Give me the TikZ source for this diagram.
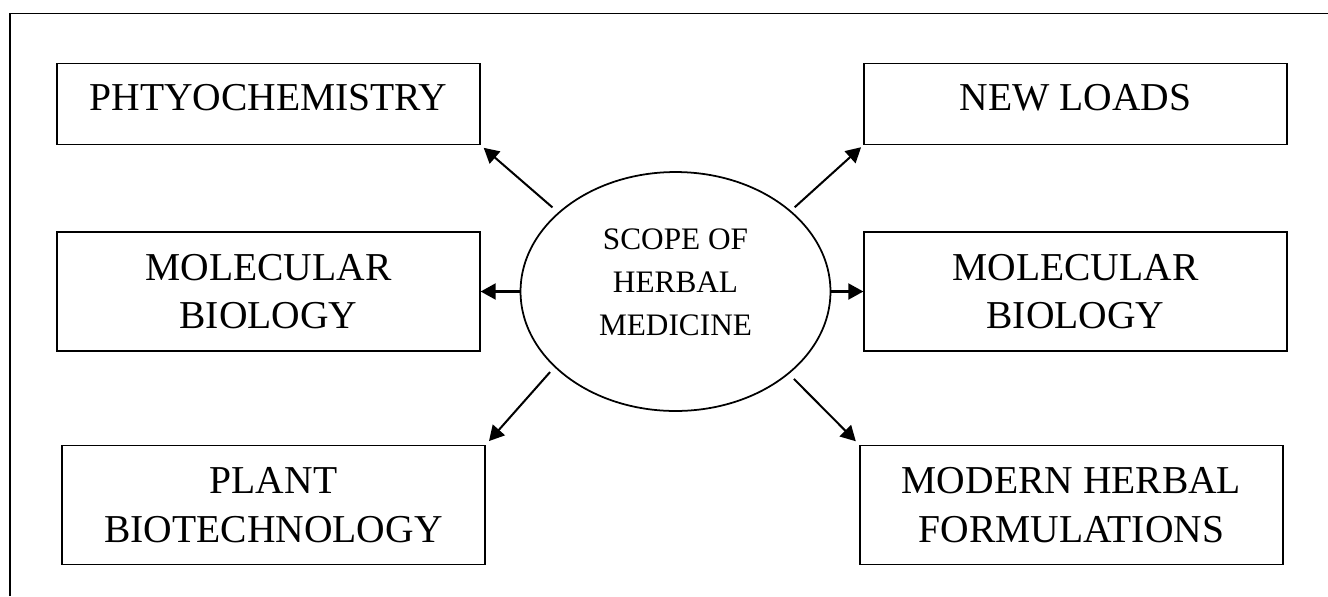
\documentclass[tikz,border=0pt]{standalone}
\usepackage{fontspec}
\setmainfont{Liberation Serif}
\usepackage{tikz}
\usetikzlibrary{shapes.geometric, arrows.meta}
\tikzset{
    topic/.style={draw, line width=.8pt, minimum width=8.46cm, align=center, inner sep=0pt,
        font=\fontsize{22.5}{27.5}\selectfont},
    hub/.style={ellipse, draw, line width=1pt, minimum width=6.2cm, minimum height=4.78cm,
        inner sep=0pt, align=center, font=\fontsize{17.8}{24.5}\selectfont, text depth=11pt},
    link/.style={line width=1.15pt, -{Triangle[length=.3cm, width=.32cm]}},
}
\begin{document}
\begin{tikzpicture}[x=.02cm, y=-.02cm]
                 \useasboundingbox (0,0) rectangle (1328,596);
                 \draw[line width=1pt] (10,596) -- (10,13.5) -- (1328,13.5);
                 \node[hub] (hub) at (675.5,291.5) {SCOPE OF\\HERBAL\\MEDICINE};
                 \node[topic, minimum height=1.62cm, text depth=8pt] (phyto) at (268.5,104) {PHTYOCHEMISTRY};
                 \node[topic, minimum height=1.62cm, text depth=8pt] (loads) at (1075.5,104) {NEW LOADS};
                 \node[topic, minimum height=2.38cm] (molL) at (268.5,291.5) {MOLECULAR\\BIOLOGY};
                 \node[topic, minimum height=2.38cm] (molR) at (1075.5,291.5) {MOLECULAR\\BIOLOGY};
                 \node[topic, minimum height=2.38cm] (plant) at (273.5,505) {PLANT\\BIOTECHNOLOGY};
                 \node[topic, minimum height=2.38cm] (modern) at (1071.5,505) {MODERN HERBAL\\FORMULATIONS};
                 \draw[link, shorten <=.15cm, shorten >=.08cm] (hub.146.5) -- (phyto.south east);
                 \draw[link, shorten <=.1cm, shorten >=.06cm] (hub.35.4) -- (loads.south west);
                 \draw[link] (hub.west) -- (molL.east);
                 \draw[link] (hub.east) -- (molR.west);
                 \draw[link, shorten <=.13cm, shorten >=.1cm] (hub.212.7) -- (plant.north east);
                 \draw[link, shorten <=.14cm, shorten >=.1cm] (hub.324) -- (modern.north west);
             \end{tikzpicture}
\end{document}
